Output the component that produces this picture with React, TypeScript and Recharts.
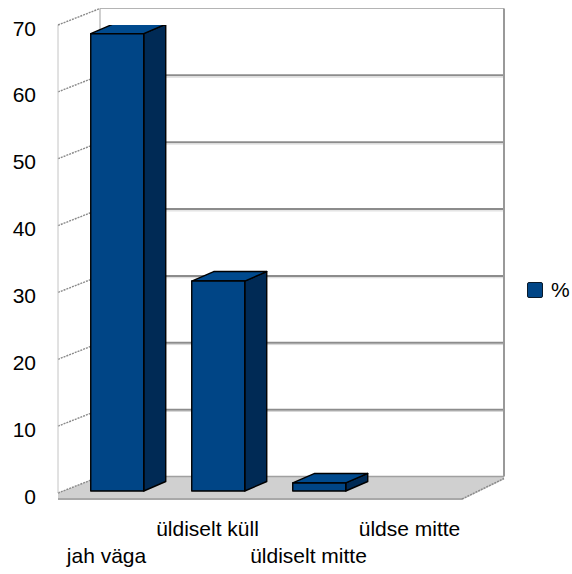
import React from 'react';
import { BarChart, Bar, XAxis, YAxis, CartesianGrid, Legend } from 'recharts';

const categories = ['jah väga', 'üldiselt küll', 'üldiselt mitte', 'üldse mitte'];
const percentValues = [68.4, 31.4, 1.2, 0];
const yTicks = [0, 10, 20, 30, 40, 50, 60, 70];
const seriesName = '%';

const data = categories.map((c, i) => ({ category: c, value: percentValues[i] }));

const DEPTH_X = 42;
const DEPTH_Y = -16.5;
const BAR_SHIFT_X = 8.5;
const BAR_SHIFT_Y = -2;
const BAR_DEPTH_X = 22;
const BAR_DEPTH_Y = -9.5;
const FONT = '"Liberation Sans", Arial, sans-serif';
const FRONT = '#004586';
const SIDE = '#002a55';
const TOP = '#004a8e';

const gridLine = (props: any) => {
  const { x1, x2, y1, index } = props;
  const pts: number[] = props.horizontalPoints && props.horizontalPoints.length ? props.horizontalPoints : [props.y, props.y + props.height];
  const bottom = Math.max(...pts);
  const top = Math.min(...pts);
  const isBottom = Math.abs(y1 - bottom) < 0.5;
  const isTop = Math.abs(y1 - top) < 0.5;
  const bx1 = x1 + DEPTH_X;
  const bx2 = x2 + DEPTH_X;
  const by = y1 + DEPTH_Y;
  return (
    <g key={`grid-${index}`}>
      {isBottom && (
        <g>
          <polygon
            points={`${x1},${y1} ${bx1},${by} ${bx2},${by} ${bx2},${by + 3} ${x2},${y1 + 7} ${x1},${y1 + 7}`}
            fill="#d0d0d0"
          />
          <line x1={x1} y1={y1 + 6} x2={x2} y2={y1 + 6} stroke="#a8a8a8" strokeWidth={2} />
          <line x1={x2} y1={y1 + 6} x2={bx2} y2={by + 2} stroke="#8a8a8a" strokeWidth={1.5} strokeDasharray="2 1" />
          <line x1={bx1} y1={by} x2={bx2} y2={by} stroke="#a0a0a0" strokeWidth={1.5} />
        </g>
      )}
      {isTop && (
        <g>
          <line x1={x1} y1={y1} x2={x1} y2={bottom} stroke="#c4c4c4" strokeWidth={1} />
          <line x1={bx1} y1={by} x2={bx1} y2={bottom + DEPTH_Y} stroke="#a0a0a0" strokeWidth={1} />
          <line x1={bx1} y1={by} x2={bx2} y2={by} stroke="#b4b4b4" strokeWidth={1} />
          <line x1={bx2} y1={by} x2={bx2} y2={bottom + DEPTH_Y} stroke="#999999" strokeWidth={2} />
        </g>
      )}
      {!isBottom && !isTop && (
        <g>
          <line x1={bx1} y1={by} x2={bx2} y2={by} stroke="#8c8c8c" strokeWidth={2} />
          <line x1={bx1} y1={by + 1.8} x2={bx2} y2={by + 1.8} stroke="#d6d6d6" strokeWidth={1} />
        </g>
      )}
      <line x1={x1} y1={y1} x2={bx1} y2={by} stroke="#8a8a8a" strokeWidth={1.4} strokeDasharray="2 1" />
    </g>
  );
};

const Bar3D = (props: any) => {
  const { x, y, width, height } = props;
  if (!height || height <= 0) return <g />;
  const fx = x + BAR_SHIFT_X;
  const fy = y + BAR_SHIFT_Y;
  const dx = BAR_DEPTH_X;
  const dy = BAR_DEPTH_Y;
  const r = fx + width;
  return (
    <g stroke="#000" strokeWidth={1.4} strokeLinejoin="round">
      <polygon
        points={`${r},${fy} ${r + dx},${fy + dy} ${r + dx},${fy + height + dy} ${r},${fy + height}`}
        fill={SIDE}
      />
      <polygon
        points={`${fx},${fy} ${r},${fy} ${r + dx},${fy + dy} ${fx + dx},${fy + dy}`}
        fill={TOP}
      />
      <rect x={fx} y={fy} width={width} height={height} fill={FRONT} />
    </g>
  );
};

const YTick = (props: any) => {
  const { y, payload } = props;
  return (
    <text x={36} y={y + 3} textAnchor="end" dominantBaseline="central" fontSize={21} fontFamily={FONT} fill="#000">
      {payload.value}
    </text>
  );
};

const XTick = (props: any) => {
  const { x, y, payload, index } = props;
  const offset = index % 2 === 0 ? 70 : 43;
  return (
    <text x={x - 2} y={y + offset} textAnchor="middle" fontSize={21} fontFamily={FONT} fill="#000">
      {payload.value}
    </text>
  );
};

const LegendContent = (props: any) => {
  const items = props.payload || [];
  return (
    <div>
      {items.map((p: any, i: number) => (
        <div key={i} style={{ display: 'flex', alignItems: 'center', height: 20 }}>
          <span
            style={{
              display: 'inline-block',
              width: 14,
              height: 14,
              background: FRONT,
              border: '1.5px solid #0a1a2a',
              borderRadius: 2,
              marginRight: 8,
            }}
          />
          <span style={{ fontFamily: FONT, fontSize: 21, color: '#000', lineHeight: '20px' }}>{p.value}</span>
        </div>
      ))}
    </div>
  );
};

export default function App() {
  return (
    <div style={{ position: 'absolute', left: 0, top: 0, background: '#fff' }}>
      <BarChart
        width={572}
        height={574}
        data={data}
        margin={{ top: 25, right: 110, bottom: 0, left: 0 }}
        barCategoryGap="24%"
      >
        <CartesianGrid vertical={false} horizontal={gridLine} />
        <XAxis
          dataKey="category"
          height={81}
          axisLine={false}
          tickLine={false}
          tickSize={0}
          tickMargin={0}
          interval={0}
          tick={<XTick />}
        />
        <YAxis
          domain={[0, 70]}
          ticks={yTicks}
          width={58}
          axisLine={false}
          tickLine={false}
          tick={<YTick />}
          allowDataOverflow
        />
        <Legend
          layout="horizontal"
          align="center"
          verticalAlign="middle"
          wrapperStyle={{ position: 'absolute', left: 527, top: 280, width: 45, height: 20 }}
          content={<LegendContent />}
        />
        <Bar dataKey="value" name={seriesName} shape={<Bar3D />} isAnimationActive={false} />
      </BarChart>
    </div>
  );
}
